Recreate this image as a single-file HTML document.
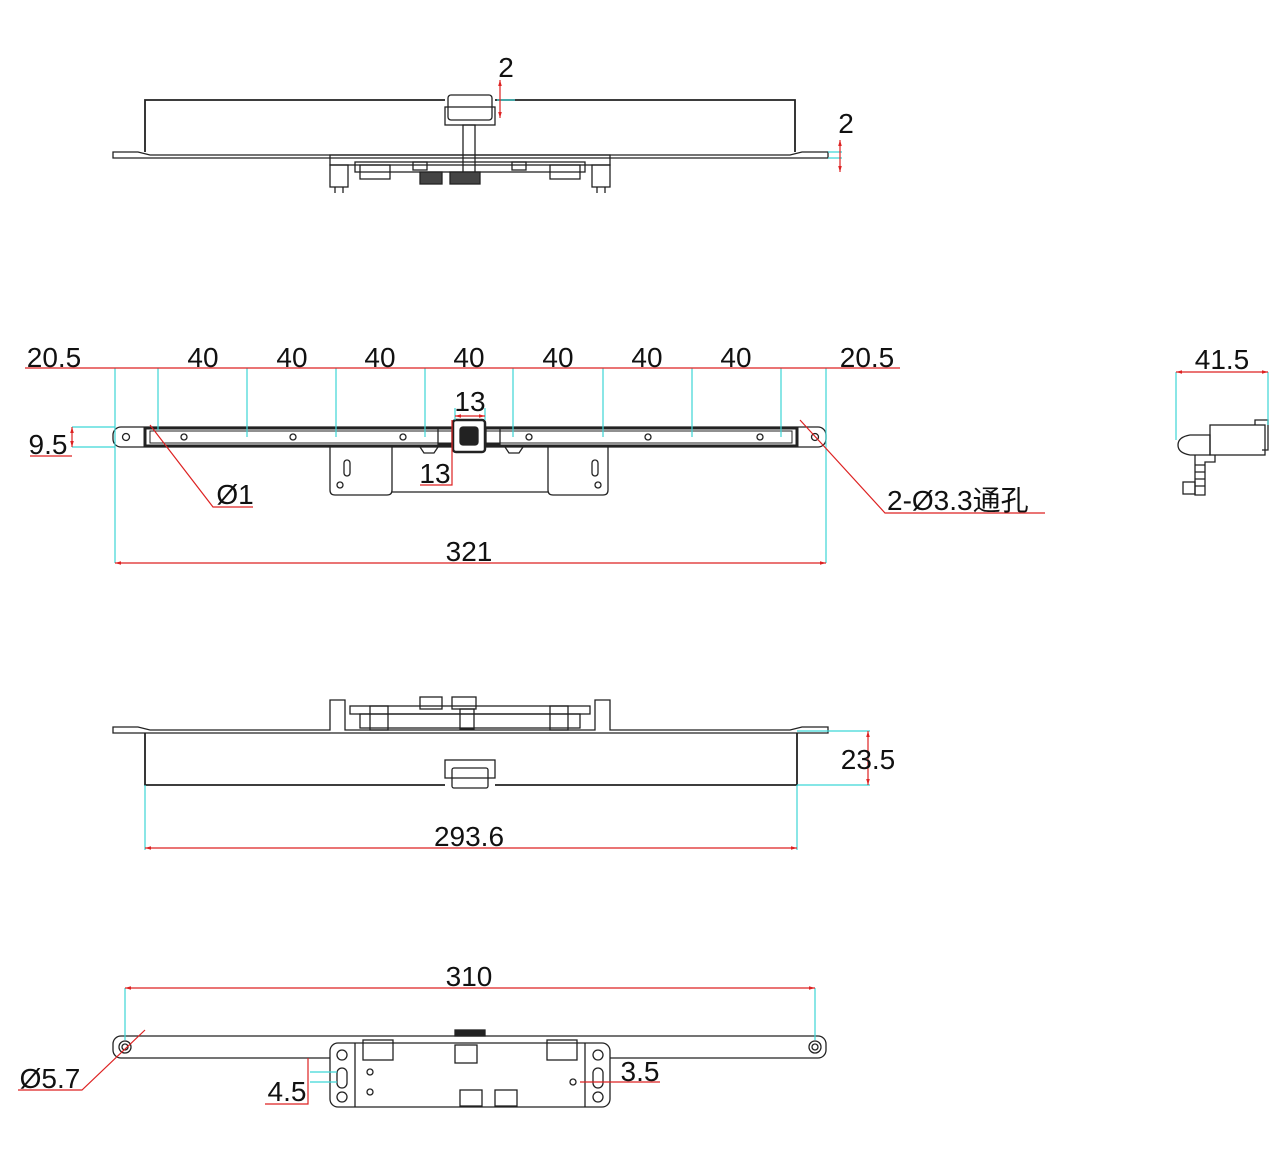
<!DOCTYPE html>
<html><head><meta charset="utf-8"><style>
html,body{margin:0;padding:0;background:#fff}
svg{display:block}
text{font-family:"Liberation Sans","Noto Sans CJK SC",sans-serif;fill:#111}
</style></head><body>
<svg width="1280" height="1172" viewBox="0 0 1280 1172" xmlns="http://www.w3.org/2000/svg">
<defs>
<marker id="a" viewBox="0 0 10 10" refX="10" refY="5" markerWidth="7" markerHeight="5" orient="auto-start-reverse"><path d="M0,2 L10,5 L0,8z" fill="#d22"/></marker>
</defs>
<g fill="none" stroke="#222" stroke-width="1.3">
<!-- View 1: top -->
<path d="M145,152 V100 H445 M495,100 H795 V152" stroke-width="1.8"/>
<path d="M113,152 H138 L150,155 H790 L802,152 H828 V158 H113 Z"/>
<rect x="448" y="95" width="44" height="25" rx="3" fill="#fff"/>
<rect x="445" y="107" width="50" height="18"/>
<rect x="463" y="125" width="12" height="58"/>
<rect x="330" y="155" width="280" height="10"/>
<rect x="355" y="162" width="230" height="10"/>
<rect x="330" y="165" width="18" height="22"/><rect x="592" y="165" width="18" height="22"/>
<path d="M335,187 V193 M343,187 V193 M597,187 V193 M605,187 V193"/>
<rect x="420" y="172" width="22" height="12" fill="#444"/><rect x="450" y="172" width="30" height="12" fill="#444"/>
<rect x="360" y="165" width="30" height="14"/><rect x="550" y="165" width="30" height="14"/>
<rect x="413" y="162" width="14" height="8"/><rect x="512" y="162" width="14" height="8"/>
<!-- View 2: front -->
<rect x="113" y="427" width="713" height="20" rx="8"/>
<rect x="145" y="428" width="652" height="18" stroke-width="3"/>
<rect x="150" y="431" width="642" height="12" fill="#fff" stroke-width="1"/>
<circle cx="126" cy="437" r="3.5"/><circle cx="815" cy="437" r="3.5"/>
<rect x="453" y="420" width="32" height="32" rx="3" stroke-width="2.5" fill="#fff"/>
<rect x="460" y="427" width="18" height="18" rx="3" fill="#222"/>
<rect x="438" y="428" width="14" height="16"/><rect x="486" y="428" width="14" height="16"/>
<path d="M330,447 V490 Q330,495 335,495 H387 Q392,495 392,490 V447 M548,447 V490 Q548,495 553,495 H603 Q608,495 608,490 V447 M392,492 H548"/>
<rect x="344" y="460" width="6" height="16" rx="3"/><rect x="592" y="460" width="6" height="16" rx="3"/>
<circle cx="340" cy="485" r="3"/><circle cx="598" cy="485" r="3"/>
<circle cx="184" cy="437" r="3"/><circle cx="293" cy="437" r="3"/><circle cx="403" cy="437" r="3"/><circle cx="529" cy="437" r="3"/><circle cx="648" cy="437" r="3"/><circle cx="760" cy="437" r="3"/>
<path d="M420,447 l4,6 h10 l4,-6 M505,447 l4,6 h10 l4,-6"/>
<!-- View 3: bottom elevation -->
<path d="M113,727 H138 L150,730 H330 V700 H345 V730 H595 V700 H610 V730 H790 L802,727 H828 V733 H113 Z"/>
<path d="M145,733 V785 H445 M495,785 H797 V733" stroke-width="1.8"/>
<rect x="350" y="706" width="240" height="8"/>
<rect x="360" y="714" width="220" height="14"/>
<rect x="370" y="706" width="18" height="24"/><rect x="550" y="706" width="18" height="24"/>
<rect x="420" y="697" width="22" height="12"/><rect x="452" y="697" width="24" height="12"/>
<rect x="460" y="709" width="14" height="20"/>
<rect x="445" y="760" width="50" height="18"/><rect x="452" y="768" width="36" height="20" rx="2"/>
<!-- View 4: bottom -->
<rect x="113" y="1036" width="713" height="22" rx="8"/>
<circle cx="125" cy="1047" r="6"/><circle cx="125" cy="1047" r="3"/>
<circle cx="815" cy="1047" r="6"/><circle cx="815" cy="1047" r="3"/>
<rect x="455" y="1030" width="30" height="6" fill="#222"/>
<rect x="330" y="1043" width="280" height="64" rx="8" fill="#fff"/>
<path d="M355,1043 V1107 M585,1043 V1107"/>
<rect x="363" y="1040" width="30" height="20"/><rect x="547" y="1040" width="30" height="20"/>
<rect x="455" y="1045" width="22" height="18"/>
<rect x="460" y="1090" width="22" height="16"/><rect x="495" y="1090" width="22" height="16"/>
<circle cx="342" cy="1055" r="5"/><circle cx="598" cy="1055" r="5"/>
<circle cx="342" cy="1097" r="5"/><circle cx="598" cy="1097" r="5"/>
<rect x="337" y="1068" width="10" height="20" rx="5"/><rect x="593" y="1068" width="10" height="20" rx="5"/>
<circle cx="370" cy="1072" r="3"/><circle cx="370" cy="1092" r="3"/><circle cx="573" cy="1082" r="3"/>
<!-- side view -->
<rect x="1210" y="425" width="55" height="30"/>
<path d="M1255,425 V420 H1268 V450 H1262"/>
<path d="M1178,445 Q1178,437 1190,435 H1210 V455 H1190 Q1178,453 1178,445 Z"/>
<path d="M1195,455 V495 H1205 V462 H1215 V455"/>
<path d="M1195,465 h10 M1195,472 h10 M1195,479 h10 M1195,486 h10"/>
<rect x="1183" y="482" width="12" height="12"/>
</g>
<g stroke="#3cd6d6" stroke-width="1.2" fill="none">
<path d="M497,100 H515 M828,152 H842 M828,158 H842"/>
<path d="M115,368 V563 M826,368 V563 M158,368 V430 M247,368 V437 M336,368 V437 M425,368 V437 M513,368 V437 M603,368 V437 M692,368 V437 M781,368 V437"/>
<path d="M72,427 H115 M72,447 H115 M455,408 V420 M485,408 V420"/>
<path d="M797,731 H870 M797,785 H870 M145,785 V850 M797,785 V850"/>
<path d="M125,988 V1040 M815,988 V1040 M310,1072 H337 M310,1082 H337"/>
<path d="M1176,372 V440 M1268,372 V425"/>
</g>
<g stroke="#d22" stroke-width="1.2" fill="none">
<path d="M500,80 V118" marker-start="url(#a)" marker-end="url(#a)"/>
<path d="M840,140 V172" marker-start="url(#a)" marker-end="url(#a)"/>
<path d="M25,368 H900"/>
<path d="M72,427 V447" marker-start="url(#a)" marker-end="url(#a)"/><path d="M30,456 H72"/>
<path d="M455,416 H485" marker-start="url(#a)" marker-end="url(#a)"/>
<path d="M452,420 V485 H420"/>
<path d="M150,425 L213,507 H253"/>
<path d="M800,420 L885,513 H1045"/>
<path d="M115,563 H826" marker-start="url(#a)" marker-end="url(#a)"/>
<path d="M868,731 V785" marker-start="url(#a)" marker-end="url(#a)"/>
<path d="M145,848 H797" marker-start="url(#a)" marker-end="url(#a)"/>
<path d="M125,988 H815" marker-start="url(#a)" marker-end="url(#a)"/>
<path d="M145,1030 L82,1090 H18"/>
<path d="M308,1058 V1104 H265"/>
<path d="M580,1082 H660"/>
<path d="M1176,372 H1268" marker-start="url(#a)" marker-end="url(#a)"/>
</g>
<g font-size="28">
<text x="506" y="77" text-anchor="middle">2</text>
<text x="846" y="133" text-anchor="middle">2</text>
<text x="54" y="367" text-anchor="middle">20.5</text>
<text x="203" y="367" text-anchor="middle">40</text>
<text x="292" y="367" text-anchor="middle">40</text>
<text x="380" y="367" text-anchor="middle">40</text>
<text x="469" y="367" text-anchor="middle">40</text>
<text x="558" y="367" text-anchor="middle">40</text>
<text x="647" y="367" text-anchor="middle">40</text>
<text x="736" y="367" text-anchor="middle">40</text>
<text x="867" y="367" text-anchor="middle">20.5</text>
<text x="1222" y="369" text-anchor="middle">41.5</text>
<text x="470" y="411" text-anchor="middle">13</text>
<text x="48" y="454" text-anchor="middle">9.5</text>
<text x="435" y="483" text-anchor="middle">13</text>
<text x="235" y="504" text-anchor="middle">Ø1</text>
<text x="887" y="510">2-Ø3.3通孔</text>
<text x="469" y="561" text-anchor="middle">321</text>
<text x="868" y="769" text-anchor="middle">23.5</text>
<text x="469" y="846" text-anchor="middle">293.6</text>
<text x="469" y="986" text-anchor="middle">310</text>
<text x="50" y="1088" text-anchor="middle">Ø5.7</text>
<text x="287" y="1101" text-anchor="middle">4.5</text>
<text x="640" y="1081" text-anchor="middle">3.5</text>
</g>
</svg>
</body></html>
